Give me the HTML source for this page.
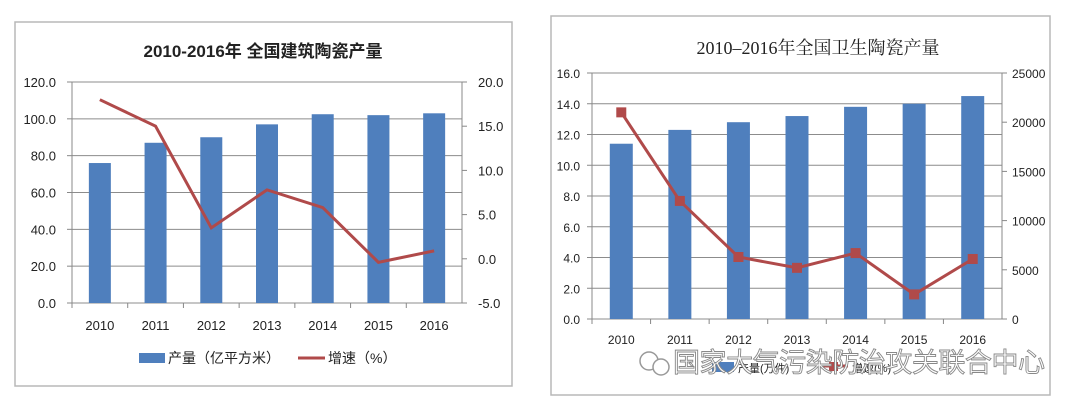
<!DOCTYPE html>
<html><head><meta charset="utf-8"><style>
html,body{margin:0;padding:0;background:#fff;width:1080px;height:408px;overflow:hidden}
svg{display:block}
text{font-family:"Liberation Sans","Noto Sans CJK SC",sans-serif;fill:#222}
</style></head><body>
<svg id="s" width="1080" height="408" xmlns="http://www.w3.org/2000/svg"></svg>
<script>
var s=document.getElementById('s'),h='';
function R(x,y,w,hh,f,st){h+='<rect x="'+x+'" y="'+y+'" width="'+w+'" height="'+hh+'" fill="'+f+'"'+(st?' stroke="'+st+'" stroke-width="1.5"':'')+'/>';}
function L(x1,y1,x2,y2,c,w){h+='<line x1="'+x1+'" y1="'+y1+'" x2="'+x2+'" y2="'+y2+'" stroke="'+c+'" stroke-width="'+(w||1)+'"/>';}
function T(x,y,t,sz,a,extra){h+='<text x="'+x+'" y="'+y+'" font-size="'+sz+'" text-anchor="'+(a||'start')+'" '+(extra||'')+'>'+t+'</text>';}
var yrs=['2010','2011','2012','2013','2014','2015','2016'];
var blue='#4f7fbd',red='#b04a4a';
// left chart
R(15,22,497,364,'#fff','#b8b8b8');
T(263,57,'2010-2016年 全国建筑陶瓷产量',17,'middle','font-weight="bold"');
var x0=72,x1=462,yb=303,yt=82,cw=(x1-x0)/7;
for(var i=0;i<=6;i++){var y=yb-i*(yb-yt)/6;L(x0,y,x1,y,'#8c8c8c',1);T(56,y+5,(i*20).toFixed(1),13,'end');L(x0-5,y,x0,y,'#888');}
for(i=0;i<=5;i++){var y=yb-i*(yb-yt)/5;T(478,y+5,(-5+i*5).toFixed(1),13,'start');L(x1,y,x1+5,y,'#888');}
L(x0,yt,x0,yb,'#888');L(x1,yt,x1,yb,'#888');
var bv=[76,87,90,97,102.5,102,103],lv=[18,15,3.5,7.8,5.8,-0.4,0.9],pts=[];
for(i=0;i<7;i++){var c=x0+cw*(i+.5);R(c-11,yb-bv[i]*(yb-yt)/120,22,bv[i]*(yb-yt)/120,blue);
pts.push(c+','+(yb-(lv[i]+5)*(yb-yt)/25));T(c,330,yrs[i],13,'middle');L(x0+cw*i,yb,x0+cw*i,yb+5,'#888');}
h+='<polyline points="'+pts.join(' ')+'" fill="none" stroke="'+red+'" stroke-width="3"/>';
R(139,353,26,10,blue);T(168,363,'产量（亿平方米）',14);
L(298,358,325,358,red,3);T(328,363,'增速（%）',14);
// right chart
R(551,16,499,379,'#fff','#b8b8b8');
T(818,54,'2010–2016年全国卫生陶瓷产量',18,'middle','style="font-family:\'Liberation Serif\',\'Noto Serif CJK SC\',serif"');
x0=592;x1=1002;yb=319;yt=73;cw=(x1-x0)/7;
for(i=0;i<=8;i++){var y=yb-i*(yb-yt)/8;L(x0,y,x1,y,'#8c8c8c',1);T(580,y+5,(i*2).toFixed(1),12,'end');L(x0-5,y,x0,y,'#888');}
for(i=0;i<=5;i++){var y=yb-i*(yb-yt)/5;T(1012,y+5,String(i*5000),12,'start');L(x1,y,x1+5,y,'#888');}
L(x0,yt,x0,yb,'#888');L(x1,yt,x1,yb,'#888');
bv=[11.4,12.3,12.8,13.2,13.8,14.0,14.5];lv=[21000,12000,6300,5200,6700,2500,6100];pts=[];var mk='';
for(i=0;i<7;i++){var c=x0+cw*(i+.5);R(c-11.5,yb-bv[i]*(yb-yt)/16,23,bv[i]*(yb-yt)/16,blue);
var ly=yb-lv[i]*(yb-yt)/25000;pts.push(c+','+ly);mk+='<rect x="'+(c-5)+'" y="'+(ly-5)+'" width="10" height="10" fill="'+red+'"/>';
T(c,344,yrs[i],12,'middle');L(x0+cw*i,yb,x0+cw*i,yb+5,'#888');}
h+='<polyline points="'+pts.join(' ')+'" fill="none" stroke="'+red+'" stroke-width="3"/>'+mk;
R(712,362,22,10,blue);T(738,372,'产量(万件)',11);
L(820,366,848,366,red,3);R(829,362,9,9,red);T(852,372,'增速(%)',11);
// watermark
h+='<circle cx="649" cy="361" r="9" fill="none" stroke="#999" stroke-width="1.5"/><circle cx="661" cy="367" r="8" fill="#fff" stroke="#999" stroke-width="1.5"/>';
T(673,372,'国家大气污染防治攻关联合中心',27,'start','style="fill:#fff;stroke:#888;stroke-width:0.9" textLength="372"');
s.innerHTML=h;
</script>
</body></html>
